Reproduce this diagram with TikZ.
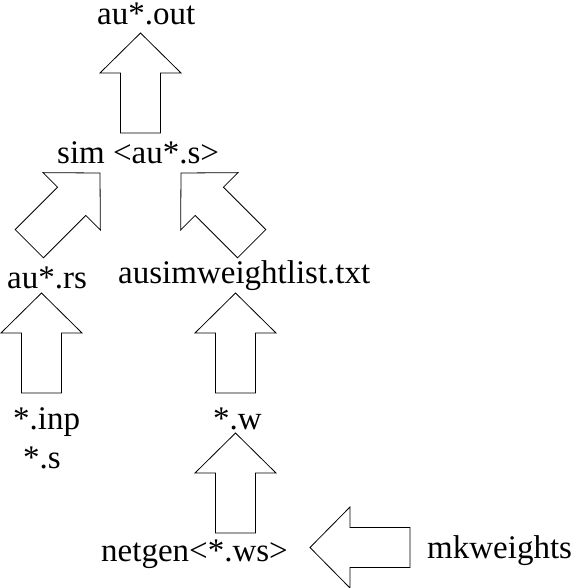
\documentclass[tikz,border=0pt]{standalone}
\usepackage{fontspec}
\setmainfont{Liberation Serif}
\tikzset{
  lbl/.style={anchor=base west, inner sep=0pt, font=\fontsize{33}{38}\selectfont},
  arrowline/.style={draw=black, fill=white, line width=0.8pt, line join=miter},
  blockarrow/.pic={
    \path[arrowline] (0,0) -- (40.5,-40) -- (20,-40) -- (20,-100) -- (-20,-100)
      -- (-20,-40) -- (-40.5,-40) -- cycle;
  }
}
\begin{document}
\begin{tikzpicture}[x=1pt,y=1pt]
\useasboundingbox (0,0) rectangle (578,-588);
% text nodes
\node[lbl] (out) at (97,-25) {au*.out};
\node[lbl] (sim) at (57,-164) {sim <au*.s>};
\node[lbl] (rs) at (7,-288) {au*.rs};
\node[lbl] (wl) at (118,-283) {ausimweightlist.txt};
\node[lbl] (inp) at (13,-429) {*.inp};
\node[lbl] (s) at (23,-468) {*.s};
\node[lbl] (w) at (213,-429) {*.w};
\node[lbl] (netgen) at (101,-561) {netgen<*.ws>};
\node[lbl] (mk) at (427,-558) {mkweights};
% arrow tips
\coordinate (t1) at (140.5,-33);
\coordinate (t2) at (100,-173);
\coordinate (t3) at (181,-173);
\coordinate (t4) at (41.5,-293);
\coordinate (t5) at (235.5,-293);
\coordinate (t6) at (235.5,-433);
\coordinate (t7) at (310,-547.5);
% block arrows
\pic at (t1) {blockarrow};
\pic[rotate=-45] at (t2) {blockarrow};
\pic[rotate=45] at (t3) {blockarrow};
\pic at (t4) {blockarrow};
\pic at (t5) {blockarrow};
\pic at (t6) {blockarrow};
\pic[rotate=90] at (t7) {blockarrow};
\end{tikzpicture}
\end{document}
